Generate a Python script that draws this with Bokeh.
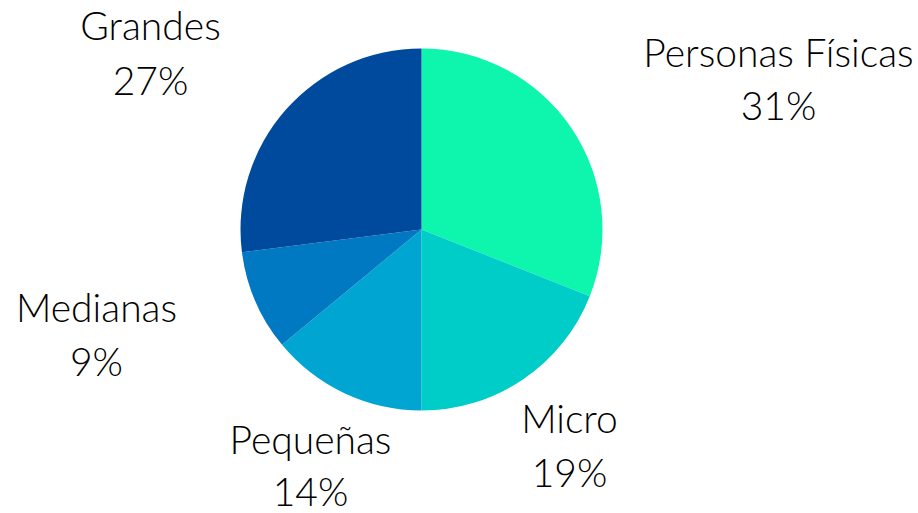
import math
from bokeh.plotting import figure
from bokeh.models import ColumnDataSource, Range1d
from bokeh.core.properties import value
from bokeh.embed import file_html
from bokeh.resources import INLINE

categories = ["Personas Físicas", "Micro", "Pequeñas", "Medianas", "Grandes"]
shares = [31, 19, 14, 9, 27]
colors = ["#0EF5AE", "#00CCC8", "#00A6D1", "#0078C2", "#004A9E"]

# label layout (pixel positions from top-left)
label_x = [778, 569, 310, 96, 150]
label_y_name = [51, 417, 438, 306, 24]
label_y_pct = [104, 471, 490, 360, 79]

W, H = 918, 513
cx, cy, r = 421, 229, 181

total = float(sum(shares))
starts, ends = [], []
cum = 0.0
for s in shares:
    starts.append(math.pi / 2 - 2 * math.pi * cum / total)
    cum += s
    ends.append(math.pi / 2 - 2 * math.pi * cum / total)

src = ColumnDataSource(dict(
    x=[cx] * len(shares), y=[H - cy] * len(shares),
    start=starts, end=ends, color=colors,
))
lab = ColumnDataSource(dict(
    x=label_x,
    yn=[H - v for v in label_y_name],
    yp=[H - v for v in label_y_pct],
    name=categories,
    pct=[f"{s}%" for s in shares],
))

p = figure(width=W, height=H, output_backend="svg", toolbar_location=None,
           x_range=Range1d(0, W), y_range=Range1d(0, H),
           min_border=0, outline_line_color=None)
p.axis.visible = False
p.grid.visible = False
p.background_fill_color = "white"
p.border_fill_color = "white"

p.wedge(x="x", y="y", radius=r, start_angle="start", end_angle="end",
        direction="clock", fill_color="color", line_color=None, source=src)

for col, txt in (("yn", "name"), ("yp", "pct")):
    p.text(x="x", y=col, text=txt, source=lab, text_align="center",
           text_baseline="alphabetic", text_font=value("'Lato Light', Lato"),
           text_font_size="39px", text_color="#000000")

open("out.html", "w").write(file_html(p, INLINE))
